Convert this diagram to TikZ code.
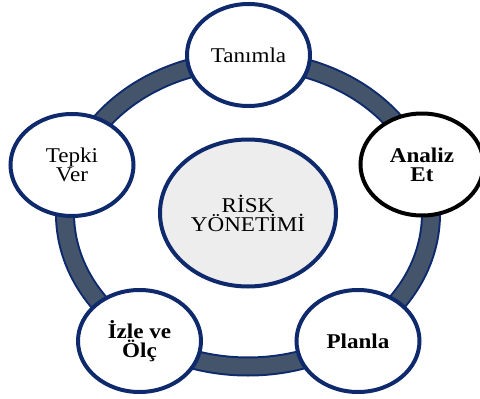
\documentclass[tikz,border=0pt]{standalone}
\usepackage{fontspec}
\setmainfont[FakeStretch=1.1]{Liberation Serif}
\usetikzlibrary{shapes.geometric}
\definecolor{navy}{HTML}{0E2A6C}
\definecolor{slate}{HTML}{44546A}
\definecolor{coregray}{HTML}{EDEDED}
\tikzstyle{phase}=[ellipse,draw=navy,line width=4,fill=white,minimum width=123,minimum height=102,inner sep=0,align=center,font=\fontsize{21}{19}\selectfont]
\tikzstyle{strong}=[font=\fontsize{21}{19}\selectfont\bfseries]
\tikzstyle{core}=[phase,fill=coregray,minimum width=176,minimum height=147]
\tikzstyle{rim} = [draw=navy,line width=20]
\tikzstyle{band} = [draw=slate,line width=16]

\begin{document}
\begin{tikzpicture}[x=1pt,y=-1pt]
  \useasboundingbox (0,0) rectangle (480,399);

  % the ring behind the phases
  \path[rim]  (248,213.5) ellipse [x radius=183, y radius=153];
  \path[band] (248,213.5) ellipse [x radius=183, y radius=153];

  % centre and the five phases
  \node[core] (risk) at (248,213) {RİSK\\YÖNETİMİ};
  \node[phase] (tanimla) at (248.5,55) {Tanımla};
  \node[phase,strong,draw=black] (analiz) at (422,164.5) {Analiz\\Et};
  \node[phase,strong] (planla) at (358,341) {Planla};
  \node[phase,strong] (izle) at (139.5,341) {İzle ve\\Ölç};
  \node[phase] (tepki) at (72,165) {Tepki\\Ver};
\end{tikzpicture}
\end{document}
